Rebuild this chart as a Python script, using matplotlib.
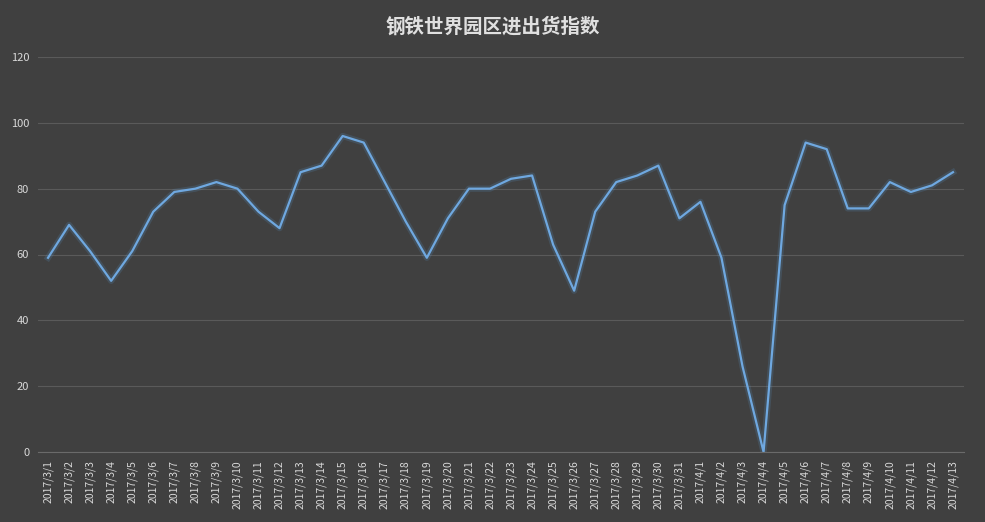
import matplotlib
matplotlib.use("Agg")
import matplotlib.pyplot as plt

plt.rcParams['font.family'] = ['Noto Sans CJK SC', 'DejaVu Sans']

dates = [f"2017/3/{d}" for d in range(1, 32)] + [f"2017/4/{d}" for d in range(1, 14)]
values = [59, 69, 61, 52, 61, 73, 79, 80, 82, 80, 73, 68, 85, 87, 96, 94, 82, 70, 59, 71,
          80, 80, 83, 84, 63, 49, 73, 82, 84, 87, 71, 76, 59, 26, 0, 75, 94, 92, 74, 74,
          82, 79, 81, 85]
yticks = [0, 20, 40, 60, 80, 100, 120]

bg = '#404040'
fig = plt.figure(figsize=(9.85, 5.22), dpi=100, facecolor=bg)
ax = fig.add_axes([37.5/985, 1-452/522, (963.5-37.5)/985, (452-57)/522], facecolor=bg)
x = list(range(len(dates)))
ax.plot(x, values, color='#5b9bd5', lw=4.5, alpha=0.18)
ax.plot(x, values, color='#6fa8e0', lw=1.6)
ax.set_xlim(-0.5, len(dates)-0.5)
ax.set_ylim(0, 120)
ax.set_yticks(yticks)
ax.set_yticklabels([str(v) for v in yticks], color='#d9d9d9', fontsize=8)
ax.set_xticks(x)
ax.set_xticklabels(dates, rotation=90, color='#d9d9d9', fontsize=7.5)
ax.grid(axis='y', color='#5a5a5a', lw=0.8)
ax.set_axisbelow(True)
for s in ['top', 'right', 'left']:
    ax.spines[s].set_visible(False)
ax.spines['bottom'].set_color('#6a6a6a')
ax.tick_params(length=0, pad=6)
fig.text(0.5, 1-27/522, '钢铁世界园区进出货指数', ha='center', va='center',
         color='#e0e0e0', fontsize=14, fontweight='bold')
fig.savefig('out.png', dpi=100, facecolor=bg)
